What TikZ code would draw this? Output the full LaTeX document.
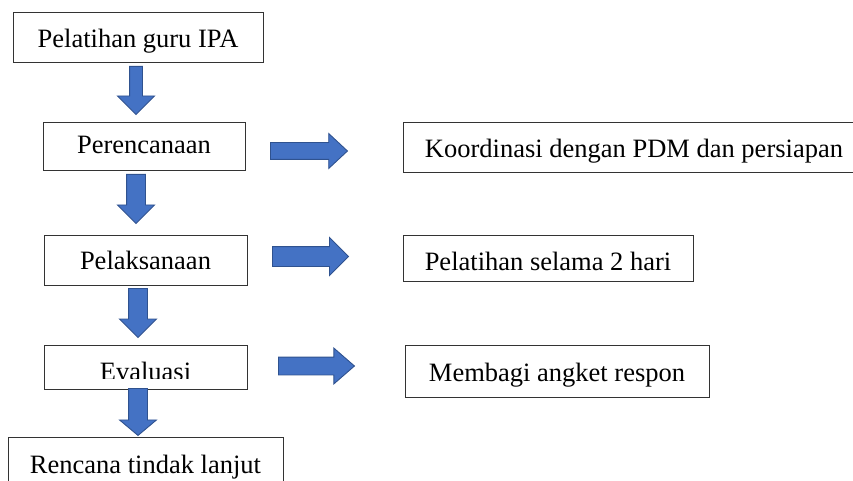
\documentclass[tikz,border=0pt]{standalone}
\usepackage{fontspec}
\setmainfont{Liberation Serif}
\usetikzlibrary{shapes.arrows}

\definecolor{arrowblue}{RGB}{68,114,196}
\definecolor{arrowedge}{RGB}{47,82,143}

\tikzset{
	box/.style={draw=black!80, line width=1pt, inner sep=0pt,
	            text height=22pt, text depth=2pt,
	            font=\fontsize{26.5}{30}\selectfont},
	blockarrow/.style={single arrow, fill=arrowblue, draw=arrowedge, line width=0.9pt,
	                   inner xsep=0pt, inner ysep=9pt, minimum width=0pt,
	                   single arrow head extend=9pt, single arrow tip angle=90,
	                   anchor=tail}
}

\begin{document}
\begin{tikzpicture}[x=1pt, y=-1pt]
	\useasboundingbox (0,0) rectangle (853,481);

	% left column
	\node[box, minimum width=250pt, minimum height=50pt] (pelatihan) at (138,38) {Pelatihan guru IPA};
	\node[box, minimum width=202pt, minimum height=48pt, text height=18pt, text depth=4pt] (perencanaan) at (144,147) {Perencanaan};
	\node[box, minimum width=203pt, minimum height=50pt, text height=20pt, text depth=2pt] (pelaksanaan) at (145.5,260) {Pelaksanaan};
	\node[box, minimum width=203pt, minimum height=44pt] (evaluasi) at (145.5,367) {};
	\begin{scope}
		\clip ([xshift=1pt]evaluasi.north west) rectangle ([yshift=11pt]evaluasi.south east);
		\node[anchor=base, inner sep=0pt, font=\fontsize{26.5}{30}\selectfont] (evaluasitext) at (145.5,380) {Evaluasi};
	\end{scope}
	\node[box, minimum width=275pt, minimum height=53pt] (rencana) at (145.5,463.5) {Rencana tindak lanjut};

	% right column
	\node[box, minimum width=462pt, minimum height=50pt] (koordinasi) at (634,148) {Koordinasi dengan PDM dan persiapan};
	\node[box, minimum width=290pt, minimum height=46pt, text height=24pt, text depth=0pt] (selama) at (548,258) {Pelatihan selama 2 hari};
	\node[box, minimum width=304pt, minimum height=52pt] (angket) at (557,371) {Membagi angket respon};

	% block arrows
	\begin{scope}[every node/.style={blockarrow}]
		\node[rotate=-90, minimum height=48pt, inner ysep=6pt, single arrow head extend=12pt] (d1) at (136,66) {};
		\node[rotate=-90, minimum height=49pt] (d2) at (136,174) {};
		\node[rotate=-90, minimum height=49pt] (d3) at (138,288) {};
		\node[rotate=-90, minimum height=47pt, single arrow tip angle=100] (d4) at (138,388) {};
		\node[minimum height=77pt, inner ysep=8pt, single arrow tip angle=86] (r1) at (270,151) {};
		\node[minimum height=76pt, inner ysep=9.5pt] (r2) at (272,256.5) {};
		\node[minimum height=76pt, inner ysep=8.5pt, single arrow tip angle=82] (r3) at (278,366) {};
	\end{scope}
\end{tikzpicture}
\end{document}
